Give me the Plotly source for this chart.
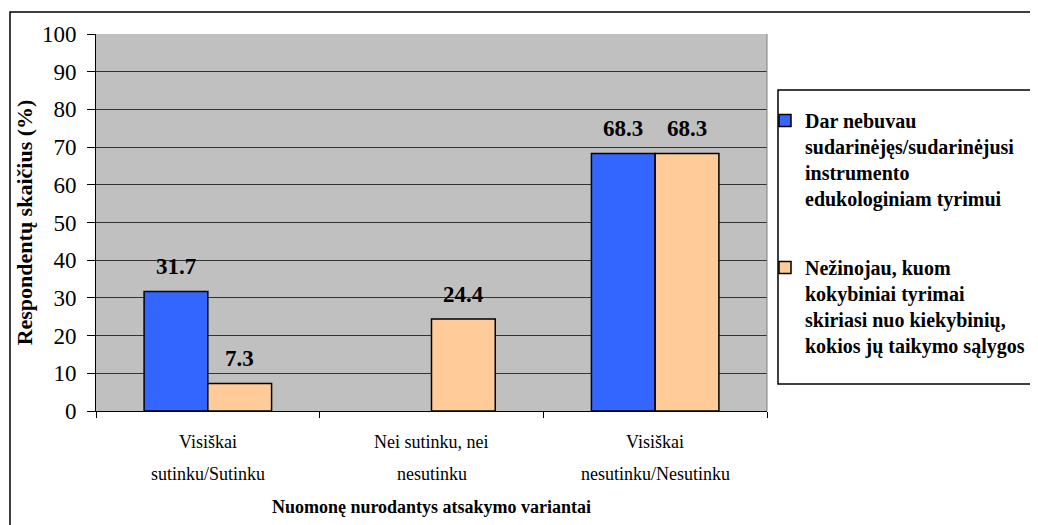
import plotly.graph_objects as go

# data
cat_line1 = ["Visiškai", "Nei sutinku, nei", "Visiškai"]
cat_line2 = ["sutinku/Sutinku", "nesutinku", "nesutinku/Nesutinku"]
categories = [a + " " + b for a, b in zip(cat_line1, cat_line2)]
series_names = [
    "Dar nebuvau<br>sudarinėjęs/sudarinėjusi<br>instrumento<br>edukologiniam tyrimui",
    "Nežinojau, kuom<br>kokybiniai tyrimai<br>skiriasi nuo kiekybinių,<br>kokios jų taikymo sąlygos",
]
blue_vals = [31.7, 0, 68.3]
orange_vals = [7.3, 24.4, 68.3]
y_ticks = list(range(0, 101, 10))

FONT = "Liberation Serif"
colors = ["#3366FF", "#FFCC99"]

# the page body has an 8px margin, so the plot is placed 8px up/left
PX_W, PX_H = 671, 377      # plot area size in px
X0, Y0 = 96, 411           # plot area left / bottom on screen


def px(x):
    return (x - X0) / PX_W


def py(y):
    return (Y0 - y) / PX_H


fig = go.Figure()
for i, (name, vals) in enumerate(zip(series_names, [blue_vals, orange_vals])):
    fig.add_trace(go.Bar(
        x=categories, y=[v if v else None for v in vals], name=name,
        legendgroup=str(i),
        marker=dict(color=colors[i], line=dict(color="black", width=1.5)),
    ))

annotations = []
# value labels above bars (zero bar is hidden in the original)
for i, vals in enumerate([blue_vals, orange_vals]):
    for c, v in zip(categories, vals):
        if not v:
            continue
        annotations.append(dict(
            x=c, y=v, xref="x", yref="y", text="%.1f" % v, showarrow=False,
            xshift=-32 if i == 0 else 32, yshift=25, yanchor="middle",
            font=dict(family=FONT, size=23, color="black", weight="bold"),
        ))
# two-line category labels (Excel spacing is wider than plotly's)
for c, l1, l2 in zip(categories, cat_line1, cat_line2):
    for txt, yy in [(l1, 442), (l2, 474)]:
        annotations.append(dict(
            x=c, y=py(yy), xref="x", yref="paper", text=txt, showarrow=False,
            yanchor="middle", font=dict(family=FONT, size=18, color="black"),
        ))

fig.update_layout(
    width=1038, height=525,
    margin=dict(l=88, r=279, t=26, b=122),
    paper_bgcolor="white", plot_bgcolor="#C0C0C0",
    barmode="group", bargap=0.43, bargroupgap=0,
    font=dict(family=FONT, color="black"),
    showlegend=True,
    legend=dict(
        x=px(765), y=py(101), xanchor="left", yanchor="top",
        bgcolor="rgba(0,0,0,0)", borderwidth=0, valign="top",
        font=dict(family=FONT, size=20, color="black", weight="bold"),
        traceorder="grouped", tracegroupgap=40,
        itemwidth=30,
    ),
    xaxis=dict(
        showline=True, linecolor="black", linewidth=1,
        ticks="outside", tickson="boundaries", ticklen=6, tickcolor="black",
        showticklabels=False,
        title=dict(text="Nuomonę nurodantys atsakymo variantai",
                   font=dict(family=FONT, size=18, weight="bold"), standoff=89),
    ),
    yaxis=dict(
        range=[0, 100], tickvals=y_ticks,
        showline=True, linecolor="black", linewidth=1,
        ticks="outside", ticklen=8, tickcolor="black",
        tickfont=dict(family=FONT, size=23), ticklabelstandoff=6,
        gridcolor="#333333", gridwidth=1, zeroline=False,
        title=dict(text="Respondentų skaičius (%)",
                   font=dict(family=FONT, size=22, weight="bold"), standoff=3),
    ),
    annotations=annotations,
    shapes=[
        # outer chart border (cropped on the right/bottom)
        dict(type="rect", xref="paper", yref="paper",
             x0=px(10), x1=1.45, y0=-0.5, y1=py(12),
             line=dict(color="black", width=1.5), layer="below"),
        # right edge of plot area
        dict(type="line", xref="paper", yref="paper", x0=1, x1=1, y0=0, y1=1,
             line=dict(color="#808080", width=1)),
        # legend box
        dict(type="rect", xref="paper", yref="paper",
             x0=px(778), x1=px(1036), y0=py(384), y1=py(90),
             line=dict(color="black", width=1.5)),
    ],
)

fig.write_html("out.html")
